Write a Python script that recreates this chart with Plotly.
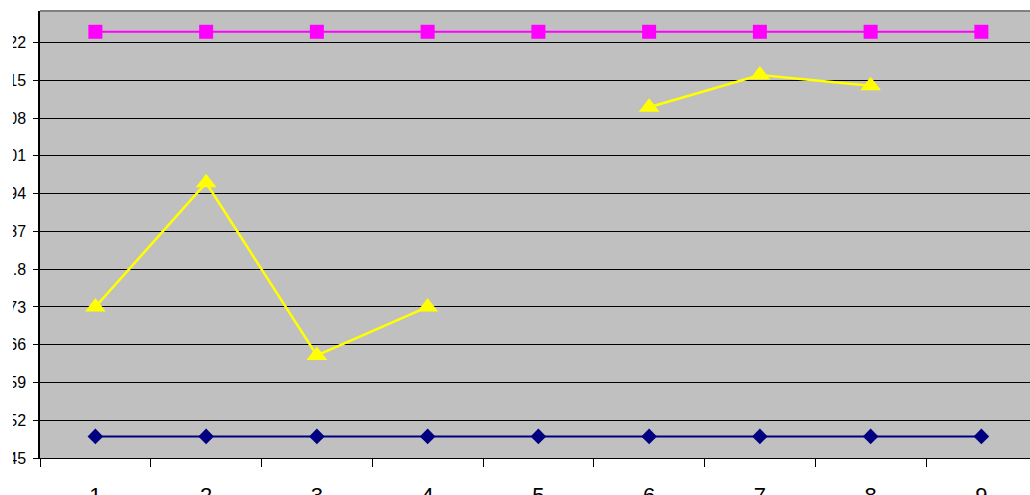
import plotly.graph_objects as go

# Category positions along the x axis
categories = [1, 2, 3, 4, 5, 6, 7, 8, 9]

# Series values
series_navy = [0.49, 0.49, 0.49, 0.49, 0.49, 0.49, 0.49, 0.49, 0.49]
series_magenta = [1.24, 1.24, 1.24, 1.24, 1.24, 1.24, 1.24, 1.24, 1.24]
series_yellow = [0.73, 0.96, 0.64, 0.73, None, 1.10, 1.16, 1.14, None]

# Axis tick values and labels
y_tickvals = [0.45, 0.52, 0.59, 0.66, 0.73, 0.80, 0.87, 0.94, 1.01, 1.08, 1.15, 1.22]
y_ticktext = ["0.45", "0.52", "0.59", "0.66", "0.73", "0.8", "0.87", "0.94",
              "1.01", "1.08", "1.15", "1.22"]
x_ticktext = ["1", "2", "3", "4", "5", "6", "7", "8", "9"]
x_boundaries = [0.5, 1.5, 2.5, 3.5, 4.5, 5.5, 6.5, 7.5, 8.5]

FONT = "Arial, Liberation Sans, sans-serif"

fig = go.Figure()

fig.add_trace(go.Scatter(
    x=categories, y=series_navy, mode="lines+markers",
    line=dict(color="#000080", width=2),
    marker=dict(symbol="diamond", size=12, color="#000080"),
    showlegend=False,
))
fig.add_trace(go.Scatter(
    x=categories, y=series_magenta, mode="lines+markers",
    line=dict(color="#FF00FF", width=2),
    marker=dict(symbol="square", size=14, color="#FF00FF"),
    showlegend=False,
))
fig.add_trace(go.Scatter(
    x=categories, y=series_yellow, mode="lines+markers",
    line=dict(color="#FFFF00", width=2.5),
    marker=dict(symbol="triangle-up", size=18, color="#FFFF00"),
    connectgaps=False,
    showlegend=False,
))

fig.update_layout(
    width=1030, height=495,
    margin=dict(l=40, r=0, t=11, b=37, pad=0, autoexpand=False),
    paper_bgcolor="white",
    plot_bgcolor="#C0C0C0",
    font=dict(family=FONT, size=15, color="black"),
    xaxis=dict(
        range=[0.5, 9.439],
        tickmode="array", tickvals=categories, ticktext=x_ticktext,
        tickfont=dict(size=22),
        ticks="", showgrid=False, zeroline=False,
        showline=True, linecolor="black", linewidth=1,
        ticklabelstandoff=18,
        automargin=False,
        minor=dict(tickmode="array", tickvals=x_boundaries, ticks="outside",
                   ticklen=8, tickcolor="black", tickwidth=1, showgrid=False),
        fixedrange=True,
    ),
    yaxis=dict(
        range=[0.45, 1.2785],
        tickmode="array", tickvals=y_tickvals, ticktext=y_ticktext,
        tickfont=dict(size=16),
        ticks="outside", ticklen=5, tickcolor="black", tickwidth=1,
        showgrid=True, gridcolor="black", gridwidth=1,
        zeroline=False,
        showline=True, linecolor="black", linewidth=1.5,
        ticklabelstandoff=4,
        automargin=False,
        fixedrange=True,
    ),
    shapes=[
        # gray top border of the plot area
        dict(type="line", xref="paper", yref="paper", x0=0, x1=1, y0=1, y1=1,
             line=dict(color="#808080", width=2), layer="above"),
        # left margin strip trimming the start of the value labels
        dict(type="rect", xref="paper", yref="paper", xsizemode="pixel",
             xanchor=0, x0=-45, x1=-27, y0=-0.06, y1=1.06,
             fillcolor="white", line=dict(width=0), layer="above"),
    ],
)

fig.write_html("out.html")
